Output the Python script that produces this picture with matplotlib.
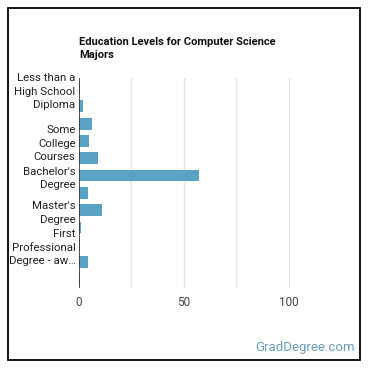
import matplotlib
matplotlib.use("Agg")
import matplotlib.pyplot as plt
from matplotlib.patches import Rectangle

# education levels (all 12 bars, labels only shown for some, like the original)
categories = [
    "Less than a High School Diploma", "High School Diploma",
    "Post-Secondary Certificate", "Some College Courses",
    "Associate's Degree", "Bachelor's Degree",
    "Post-Baccalaureate Certificate", "Master's Degree",
    "Post-Master's Certificate", "First Professional Degree - awarded",
    "Doctoral Degree", "Post-Doctoral Training",
]
shown_labels = [
    "Less than a\nHigh School\nDiploma", "", "",
    "Some\nCollege\nCourses", "",
    "Bachelor's\nDegree", "",
    "Master's\nDegree", "",
    "First\nProfessional\nDegree - aw\u2026", "", "",
]
percent = [0.3, 2.0, 6.3, 4.9, 9.2, 57.3, 4.4, 11.1, 1.1, 0.3, 4.4, 0.5]
x_ticks = [0, 50, 100]
grid_lines = [25, 50, 75, 100]

plt.rcParams['font.family'] = ['Roboto', 'DejaVu Sans']

W = 370.0
fig = plt.figure(figsize=(3.7, 3.7), dpi=100)
ax = fig.add_axes([79 / W, 82 / W, (340 - 79) / W, 210 / W])

pos = list(range(len(categories)))
ax.barh(pos, percent, height=0.68, color="#5ba3c4", zorder=3)

ax.set_xlim(0, 124.3)
ax.set_ylim(11.5, -0.64)

for g in grid_lines:
    ax.axvline(g, color="#e2e2e2", linewidth=0.9, zorder=1)
ax.axvline(0, color="#333333", linewidth=1.2, zorder=4)

ax.set_xticks(x_ticks)
ax.set_xticklabels([str(t) for t in x_ticks], fontsize=8.5, color="#444444")
ax.set_yticks(pos)
ax.set_yticklabels(shown_labels, fontsize=8.2, color="#222222", linespacing=1.45)
ax.tick_params(axis="both", length=0)
ax.tick_params(axis="y", pad=2.5)
ax.tick_params(axis="x", pad=6)
for s in ax.spines.values():
    s.set_visible(False)

fig.text(79 / W, 1 - 48.5 / W, "Education Levels for Computer Science\nMajors",
         fontsize=8, fontweight="bold", ha="left", va="center",
         color="#111111", linespacing=1.35)

fig.text(355 / W, 1 - 348 / W, "GradDegree.com", fontsize=9.5,
         color="#6a9cbd", ha="right", va="center")

fig.patches.append(Rectangle((8 / W, 1 - 360 / W), 352 / W, 352 / W,
                             transform=fig.transFigure, fill=False,
                             edgecolor="black", linewidth=1.3))

fig.savefig("out.png", dpi=100)
